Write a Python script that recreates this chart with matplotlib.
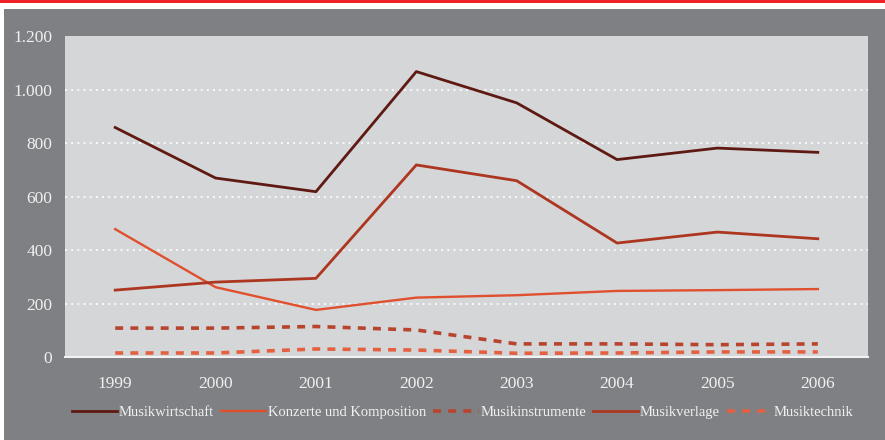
import matplotlib.pyplot as plt
from matplotlib.patches import Rectangle

# Jahre und Werte (Mio. Euro)
years = ['1999', '2000', '2001', '2002', '2003', '2004', '2005', '2006']
musikwirtschaft = [858, 669, 618, 1067, 950, 738, 781, 765]
konzerte = [478, 261, 176, 222, 231, 247, 250, 254]
musikinstrumente = [108, 108, 114, 101, 49, 49, 46, 49]
musikverlage = [250, 280, 294, 718, 659, 426, 467, 442]
musiktechnik = [15, 15, 30, 26, 14, 15, 19, 19]
y_ticks = [0, 200, 400, 600, 800, 1000, 1200]
y_labels = ['0', '200', '400', '600', '800', '1.000', '1.200']

BG = '#7f8084'
PLOT_BG = '#d5d6d8'
TXT = '#f0f0f0'

plt.rcParams['font.family'] = ['Liberation Serif', 'DejaVu Serif']

fig = plt.figure(figsize=(8.85, 4.4), dpi=100)
fig.patch.set_facecolor('white')
# grauer Hintergrund und roter Balken oben
fig.patches.append(Rectangle((4 / 885, 0), 1, (440 - 9) / 440, transform=fig.transFigure,
                             facecolor=BG, edgecolor='none', zorder=-10))
fig.patches.append(Rectangle((0, (440 - 3.5) / 440), 1, 3.5 / 440, transform=fig.transFigure,
                             facecolor='#ee2229', edgecolor='none', zorder=-10))

ax = fig.add_axes([65 / 885, 83 / 440, 803 / 885, 321 / 440])
ax.set_facecolor(PLOT_BG)
x = range(len(years))

ax.plot(x, musikwirtschaft, color='#5e1a12', lw=2.0, label='Musikwirtschaft')
ax.plot(x, konzerte, color='#e0502e', lw=1.7, label='Konzerte und Komposition')
ax.plot(x, musikinstrumente, color='#b8442e', lw=2.6, dashes=(2.2, 2.0),
        label='Musikinstrumente')
ax.plot(x, musikverlage, color='#ad3620', lw=2.0, label='Musikverlage')
ax.plot(x, musiktechnik, color='#e46040', lw=2.6, dashes=(2.2, 2.0),
        label='Musiktechnik')

ax.set_xlim(-0.5, len(years) - 0.5)
ax.set_ylim(0, 1200)
ax.set_xticks(list(x))
ax.set_xticklabels(years)
ax.set_yticks(y_ticks)
ax.set_yticklabels(y_labels)
ax.tick_params(length=0, colors=TXT, labelsize=12.5)
ax.tick_params(axis='x', pad=14)
ax.tick_params(axis='y', pad=9)
for s in ax.spines.values():
    s.set_visible(False)
ax.spines['bottom'].set_visible(True)
ax.spines['bottom'].set_color('#f2f2f2')
ax.spines['bottom'].set_linewidth(1.5)
for v in y_ticks[1:-1]:
    ax.axhline(v, color='white', lw=1.2, ls=(0, (1.2, 2.5)), zorder=0.5)

leg = fig.legend(loc='center', bbox_to_anchor=(0.523, 28 / 440), ncol=5, frameon=False,
                 fontsize=10.5, handlelength=3.1, handletextpad=0.1, columnspacing=0.5)
for t in leg.get_texts():
    t.set_color(TXT)

fig.savefig('out.png', dpi=100, facecolor=fig.get_facecolor())
